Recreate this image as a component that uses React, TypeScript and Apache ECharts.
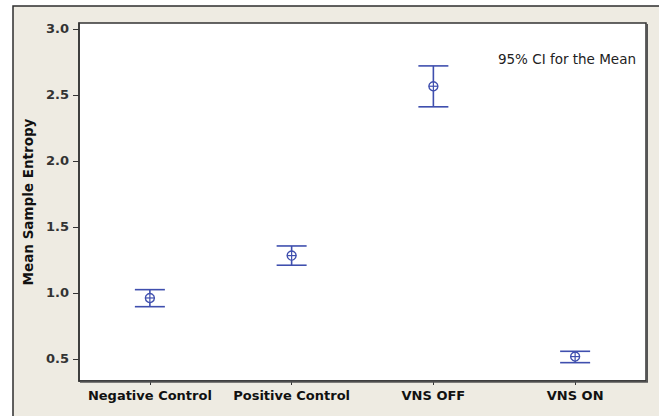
import React, { useEffect, useRef } from "react";
import * as echarts from "echarts";

const categories = ["Negative Control", "Positive Control", "VNS OFF", "VNS ON"];
const means = [0.962, 1.283, 2.566, 0.518];
const lowerCI = [0.896, 1.21, 2.41, 0.472];
const upperCI = [1.025, 1.356, 2.72, 0.558];
const yTicks = [0.5, 1.0, 1.5, 2.0, 2.5, 3.0];

const BLUE = "#3F4FAE";

export default function App() {
  const ref = useRef<HTMLDivElement>(null);
  useEffect(() => {
    if (!ref.current) return;
    const chart = echarts.init(ref.current, undefined, { renderer: "svg" });
    const data = categories.map((c, i) => [i, means[i], lowerCI[i], upperCI[i]]);
    chart.setOption({
      animation: false,
      backgroundColor: "#ffffff",
      graphic: [
        {
          type: "rect",
          z: -10,
          shape: { x: 13, y: 6, width: 660, height: 420 },
          style: { fill: "#EEEBE2", stroke: "#2e2e2e", lineWidth: 1.5 },
          silent: true,
        },
        {
          type: "line",
          z: 10,
          shape: { x1: 647, y1: 24, x2: 647, y2: 382 },
          style: { stroke: "#555", lineWidth: 2 },
        },
        {
          type: "line",
          z: 10,
          shape: { x1: 80, y1: 382, x2: 648, y2: 382 },
          style: { stroke: "#555", lineWidth: 1.5 },
        },
        {
          type: "text",
          right: 23,
          top: 52,
          style: {
            text: "95% CI for the Mean",
            font: "13.5px 'DejaVu Sans'",
            fill: "#222",
          },
        },
      ],
      grid: {
        left: 79,
        top: 23,
        width: 567,
        height: 358,
        show: true,
        backgroundColor: "#ffffff",
        borderColor: "#333",
        borderWidth: 1.5,
      },
      xAxis: {
        type: "category",
        data: categories,
        boundaryGap: true,
        axisLine: { show: true, lineStyle: { color: "#333", width: 1.5 } },
        axisTick: { show: true, alignWithLabel: true, length: 4, lineStyle: { color: "#333" } },
        axisLabel: {
          interval: 0,
          margin: 8,
          color: "#111",
          fontFamily: "DejaVu Sans",
          fontWeight: "bold",
          fontSize: 13,
        },
        splitLine: { show: false },
      },
      yAxis: {
        type: "value",
        min: 0.333,
        max: 3.045,
        name: "Mean Sample Entropy",
        nameLocation: "middle",
        nameRotate: 90,
        nameGap: 43,
        nameTextStyle: {
          color: "#111",
          fontFamily: "DejaVu Sans",
          fontWeight: "bold",
          fontSize: 13.5,
        },
        axisLine: { show: true, lineStyle: { color: "#333", width: 1.5 } },
        axisTick: {
          show: true,
          length: 6,
          customValues: yTicks,
          lineStyle: { color: "#333" },
        },
        axisLabel: {
          customValues: yTicks,
          margin: 10,
          color: "#333",
          fontFamily: "DejaVu Sans",
          fontWeight: "bold",
          fontSize: 13,
          formatter: (v: number) => v.toFixed(1),
        },
        splitLine: { show: false },
      },
      series: [
        {
          type: "custom",
          data,
          encode: { x: 0, y: [1, 2, 3] },
          renderItem: (params: any, api: any) => {
            const x = api.value(0);
            const m = api.coord([x, api.value(1)]);
            const lo = api.coord([x, api.value(2)]);
            const hi = api.coord([x, api.value(3)]);
            const half = 15;
            const r = 4.5;
            const st = { stroke: BLUE, lineWidth: 1.6, fill: "none" };
            return {
              type: "group",
              children: [
                { type: "line", shape: { x1: m[0], y1: hi[1], x2: m[0], y2: m[1] - r }, style: st },
                { type: "line", shape: { x1: m[0], y1: m[1] + r, x2: m[0], y2: lo[1] }, style: st },
                { type: "line", shape: { x1: m[0] - half, y1: hi[1], x2: m[0] + half, y2: hi[1] }, style: st },
                { type: "line", shape: { x1: m[0] - half, y1: lo[1], x2: m[0] + half, y2: lo[1] }, style: st },
                { type: "circle", shape: { cx: m[0], cy: m[1], r }, style: { stroke: BLUE, lineWidth: 1.4, fill: "none" } },
                { type: "line", shape: { x1: m[0] - r, y1: m[1], x2: m[0] + r, y2: m[1] }, style: { stroke: BLUE, lineWidth: 1.2 } },
                { type: "line", shape: { x1: m[0], y1: m[1] - r, x2: m[0], y2: m[1] + r }, style: { stroke: BLUE, lineWidth: 1.2 } },
              ],
            };
          },
        },
      ],
    });
    return () => chart.dispose();
  }, []);
  return (
    <div
      ref={ref}
      style={{ position: "fixed", left: 0, top: 0, width: 659, height: 416 }}
    />
  );
}
